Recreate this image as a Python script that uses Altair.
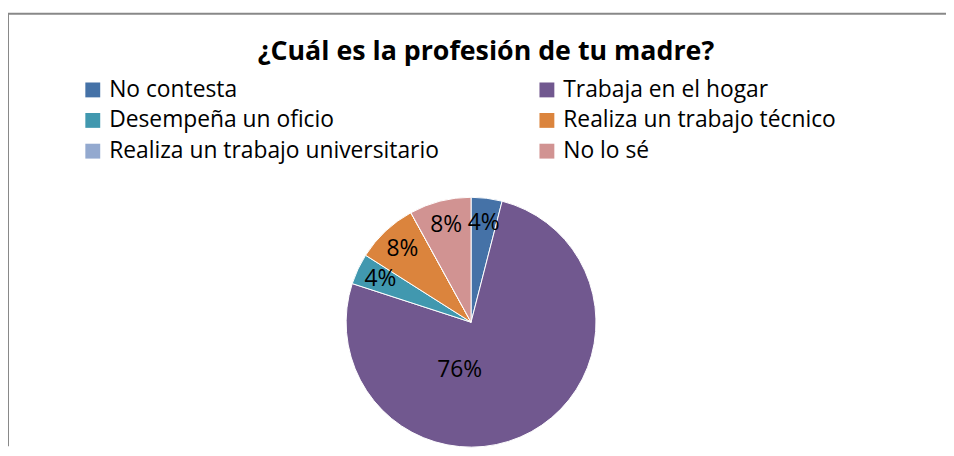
import altair as alt
import pandas as pd

categories = [
    "No contesta",
    "Trabaja en el hogar",
    "Desempeña un oficio",
    "Realiza un trabajo técnico",
    "Realiza un trabajo universitario",
    "No lo sé",
]
percentages = [4, 76, 4, 8, 0, 8]
colors = ["#4572A7", "#71588F", "#4198AF", "#DB843D", "#93A9CF", "#D19392"]
title_text = "¿Cuál es la profesión de tu madre?"

df = pd.DataFrame({
    "categoria": categories,
    "porcentaje": percentages,
    "orden": list(range(len(categories))),
    "etiqueta": [f"{p}%" for p in percentages],
})

FONT = "Open Sans"
CX, CY = 467, 315

base = alt.Chart(df).encode(
    theta=alt.Theta("porcentaje:Q", stack=True),
    order=alt.Order("orden:Q", sort="ascending"),
    x=alt.value(CX),
    y=alt.value(CY),
)

pie = base.mark_arc(outerRadius=126, stroke="white", strokeWidth=1).encode(
    color=alt.Color(
        "categoria:N",
        scale=alt.Scale(domain=categories, range=colors),
        sort=categories,
        legend=alt.Legend(
            orient="none",
            legendX=74,
            legendY=69,
            columns=2,
            direction="horizontal",
            title=None,
            symbolType="square",
            symbolSize=225,
            symbolStrokeWidth=0,
            symbolOpacity=1,
            labelFont=FONT,
            labelFontSize=23,
            labelColor="black",
            labelOffset=5,
            labelLimit=600,
            rowPadding=7,
            columnPadding=97,
            padding=0,
        ),
    )
)

small_labels = base.mark_text(radius=101, fontSize=23, font=FONT, color="black").encode(
    text=alt.condition(
        "datum.porcentaje > 0 && datum.porcentaje < 50",
        alt.Text("etiqueta:N"),
        alt.value(""),
    )
)

big_label = base.mark_text(radius=49, dx=-35, dy=5, fontSize=23, font=FONT, color="black").encode(
    text=alt.condition(
        "datum.porcentaje >= 50",
        alt.Text("etiqueta:N"),
        alt.value(""),
    )
)

frame = pd.DataFrame({"k": [0]})
border_left = alt.Chart(frame).mark_rule(color="#888888", strokeWidth=2).encode(
    x=alt.value(0), y=alt.value(4), y2=alt.value(440)
)
border_top = alt.Chart(frame).mark_rule(color="#888888", strokeWidth=2).encode(
    x=alt.value(0), x2=alt.value(946), y=alt.value(4)
)

chart = (
    alt.layer(border_left, border_top, pie, small_labels, big_label)
    .properties(
        width=946,
        height=440,
        padding=0,
        autosize=alt.AutoSizeParams(type="none"),
        title=alt.Title(
            title_text,
            font=FONT,
            fontSize=27,
            fontWeight="bold",
            color="black",
            anchor="middle",
            offset=0,
            baseline="alphabetic",
            dx=9,
            dy=78,
        ),
    )
    .configure_view(stroke=None)
)

chart.save("out.html", embed_options={"renderer": "svg", "actions": False})
